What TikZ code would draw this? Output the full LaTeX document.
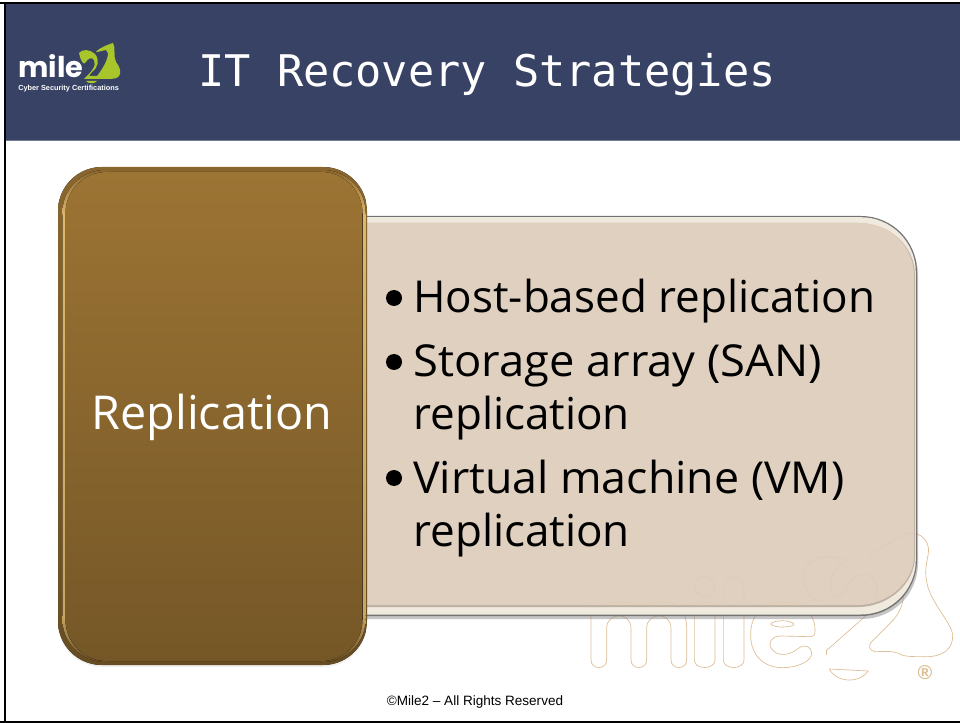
\documentclass[tikz,border=0pt]{standalone}
\usepackage{fontspec}
\setmainfont{Open Sans}
\newfontfamily\titlefont{DejaVu Sans Mono}
\newfontfamily\footfont{Liberation Sans}
\newfontfamily\logofont{Poppins}
\usetikzlibrary{calc}
\definecolor{banner}{HTML}{384264}
\definecolor{goldtop}{HTML}{9C7434}
\definecolor{goldbot}{HTML}{755727}
\definecolor{goldhi}{HTML}{DDB76E}
\definecolor{goldhib}{HTML}{C8A663}
\definecolor{beige}{HTML}{DFD0BF}
\definecolor{beigehi}{HTML}{F0E9DE}
\definecolor{wmark}{HTML}{DDBD94}
\definecolor{logogreen}{HTML}{A8C62C}
\tikzset{
  bodytext/.style={anchor=base west,inner sep=0,font=\fontsize{33pt}{33pt}\selectfont,text=black},
  bullet/.style={circle,fill=black,inner sep=0,minimum size=12pt},
  wm/.style={draw=wmark,line width=0.5pt,line join=round}
}
\newcommand{\wmpaths}{%
 \draw[wm] (93,480) -- (93,322) -- (125,322) .. controls (140,310) and (165,305) .. (185,305)
   .. controls (205,305) and (225,315) .. (240,330) .. controls (260,310) and (285,305) .. (305,305)
   .. controls (350,305) and (380,335) .. (380,380) -- (380,480)
   .. controls (380,510) and (333,510) .. (333,480) -- (333,385)
   .. controls (333,335) and (260,335) .. (260,385) -- (260,480)
   .. controls (260,510) and (213,510) .. (213,480) -- (213,385)
   .. controls (213,335) and (140,335) .. (140,385) -- (140,480)
   .. controls (140,510) and (93,510) .. (93,480) -- cycle;
 \draw[wm] (403,480) -- (403,335) .. controls (403,295) and (465,295) .. (465,335) -- (465,480)
   .. controls (465,510) and (403,510) .. (403,480) -- cycle;
 \draw[wm] (403,260) .. controls (403,222) and (465,222) .. (465,260) .. controls (465,298) and (403,298) .. (403,260) -- cycle;
 \draw[wm] (490,480) -- (490,262) .. controls (490,222) and (552,222) .. (552,262) -- (552,480)
   .. controls (552,510) and (490,510) .. (490,480) -- cycle;
 \draw[wm] (572,405) .. controls (572,340) and (610,305) .. (668,305)
   .. controls (730,305) and (768,345) .. (765,395) .. controls (765,405) and (760,410) .. (750,410)
   -- (660,408) .. controls (635,408) and (622,430) .. (635,447)
   .. controls (650,470) and (690,468) .. (715,445) .. controls (735,430) and (755,440) .. (755,460)
   .. controls (755,485) and (710,503) .. (668,503) .. controls (610,503) and (572,465) .. (572,405) -- cycle;
 \draw[wm] (632,372) .. controls (640,360) and (690,358) .. (702,372) .. controls (705,382) and (640,386) .. (632,372) -- cycle;
 \draw[wm] (800,465) -- (799,452) -- (920,345) .. controls (940,320) and (955,290) .. (950,255)
   .. controls (945,225) and (905,215) .. (880,235) .. controls (860,255) and (855,285) .. (830,290)
   .. controls (805,285) and (795,225) .. (860,180) .. controls (835,170) and (800,165) .. (770,175)
   .. controls (735,190) and (725,225) .. (735,260) .. controls (745,290) and (765,300) .. (775,305);
 \draw[wm] (925,165) .. controls (960,150) and (1010,110) .. (1045,100)
   .. controls (1085,95) and (1110,125) .. (1105,160) .. controls (1100,190) and (1092,215) .. (1102,255)
   .. controls (1115,310) and (1175,370) .. (1178,405) .. controls (1180,445) and (1150,470) .. (1100,470)
   .. controls (1060,470) and (1040,470) .. (1025,465) .. controls (1000,450) and (970,455) .. (945,455)
   .. controls (925,450) and (925,435) .. (935,425) -- (1000,360)
   .. controls (1030,325) and (1040,280) .. (1020,245);
 \draw[wm] (808,507) -- (925,513) .. controls (900,550) and (830,550) .. (808,507) -- cycle;
}
\begin{document}
\begin{tikzpicture}[x=0.75pt,y=-0.75pt]
\useasboundingbox (0,0) rectangle (960,723);
\fill[white] (0,0) rectangle (960,723);
% banner
\fill[banner] (6,4) rectangle (960,140);
\draw[color=banner!70!white,line width=0.75pt] (6,140.3) -- (960,140.3);
% frame
\fill[black] (0,2) rectangle (960,4);
\fill[black] (4,2) rectangle (6,723);
\fill[black] (0,721) rectangle (960,722.5);
% logo
\node[anchor=base west,inner sep=0,text=white,font=\logofont\bfseries\fontsize{21.5pt}{22pt}\selectfont] (logotext) at (18,78) {mile};
\fill[logogreen] (79,53) .. controls (82,49) and (90,49) .. (95,54) .. controls (100,60) and (98,68) .. (92,72)
  -- (89,76) -- (97,76) .. controls (108,62) and (110,52) .. (106,50) .. controls (103,50) and (100,52) .. (96,52)
  .. controls (100,47) and (110,44) .. (113,43) .. controls (116,48) and (113,56) .. (116,62) .. controls (119,66) and (121,70) .. (120,74)
  .. controls (119,79) and (113,79) .. (106,79) -- (88,79) -- (84,79) .. controls (91,72) and (97,66) .. (94,60)
  .. controls (92,57) and (88,58) .. (86,62) .. controls (84,66) and (81,62) .. (79,53) -- cycle;
\fill[logogreen] (86,81) -- (97,81) .. controls (95,84) and (88,84) .. (86,81) -- cycle;
\node[anchor=base west,inner sep=0,text=white,font=\footfont\bfseries\fontsize{5.5pt}{6pt}\selectfont] (logosub) at (18,91) {Cyber Security Certifications};
% title
\node[anchor=base west,inner sep=0,text=white,font=\titlefont\fontsize{32.7pt}{33pt}\selectfont] (title) at (198,87) {IT Recovery Strategies};
% watermark
\begin{scope}[x=0.25pt,y=-0.25pt,shift={(1680,1500)}]
\wmpaths
\end{scope}
\node[inner sep=0,text=wmark,font=\footfont\bfseries\fontsize{15pt}{15pt}\selectfont] (reg) at (925,673) {®};
% beige panel
\fill[black!45,opacity=.5] (340,219) -- (862,219) .. controls (893,219) and (918,244) .. (918,275) -- (918,563) .. controls (918,594) and (893,619) .. (862,619) -- (340,619) -- cycle;
\fill[color=black!55] (340,216) -- (861,216) .. controls (892,216) and (917,241) .. (917,272) -- (917,560) .. controls (917,591) and (892,616) .. (861,616) -- (340,616) -- cycle;
\fill[beigehi] (340,217.2) -- (861,217.2) .. controls (891,217.2) and (915.8,242) .. (915.8,272) -- (915.8,560) .. controls (915.8,590) and (891,614.5) .. (861,614.5) -- (340,614.5) -- cycle;
\fill[beige!85!black] (340,223) -- (858,223) .. controls (890,223) and (915,246) .. (915,276) -- (915,556) .. controls (915,584) and (888,607) .. (858,607) -- (340,607) -- cycle;
\fill[beige] (340,223) -- (858,223) .. controls (890,223) and (914,246) .. (914,276) -- (914,556) .. controls (914,582) and (888,605) .. (858,605) -- (340,605) -- cycle;
\begin{scope}
\clip (340,223) -- (858,223) .. controls (890,223) and (915,246) .. (915,276) -- (915,556) .. controls (915,584) and (888,607) .. (858,607) -- (340,607) -- cycle;
\begin{scope}[x=0.25pt,y=-0.25pt,shift={(1680,1500)},opacity=.22]
\wmpaths
\end{scope}
\end{scope}
% gold box: faint shadow, rim, highlights, face
\fill[black!30,opacity=.2,rounded corners=33pt] (58,169) rectangle (367,667);
\begin{scope}
\clip[rounded corners=33pt] (58,167) rectangle (367,665);
\fill[top color=goldtop!88!black,bottom color=goldbot!88!black] (58,167) rectangle (367,665);
\end{scope}
% side highlights, fading out round the corners
\begin{scope}
\clip[rounded corners=32pt] (62.5,170) rectangle (365.5,662);
\fill[top color=goldtop!88!black,bottom color=goldhi] (58,170) rectangle (367,215);
\fill[top color=goldhi,bottom color=goldhib] (58,215) rectangle (367,615);
\fill[top color=goldhib,bottom color=goldbot!88!black] (58,615) rectangle (367,662);
\end{scope}
\fill[top color=goldtop,bottom color=goldbot,rounded corners=31pt] (65.5,172) rectangle (362.5,661);
% texts
\node[anchor=base,inner sep=0,text=white,font=\fontsize{35pt}{35pt}\selectfont] (rep) at (212,430) {Replication};
\node[bullet] (b1) at (394,298) {};
\node[bodytext] (t1) at (413,313) {Host-based replication};
\node[bullet] (b2) at (394,362) {};
\node[bodytext,xscale=1.03,transform shape] (t2) at (413,377) {Storage array (SAN)};
\node[bodytext] (t2b) at (413,430) {replication};
\node[bullet] (b3) at (394,478) {};
\node[bodytext,xscale=1.016,transform shape] (t3) at (413,493) {Virtual machine (VM)};
\node[bodytext] (t3b) at (413,546) {replication};
% footer
\node[anchor=base,inner sep=0,text=black,font=\footfont\fontsize{10.15pt}{10pt}\selectfont] (foot) at (475,705) {©Mile2 – All Rights Reserved};
\end{tikzpicture}
\end{document}
